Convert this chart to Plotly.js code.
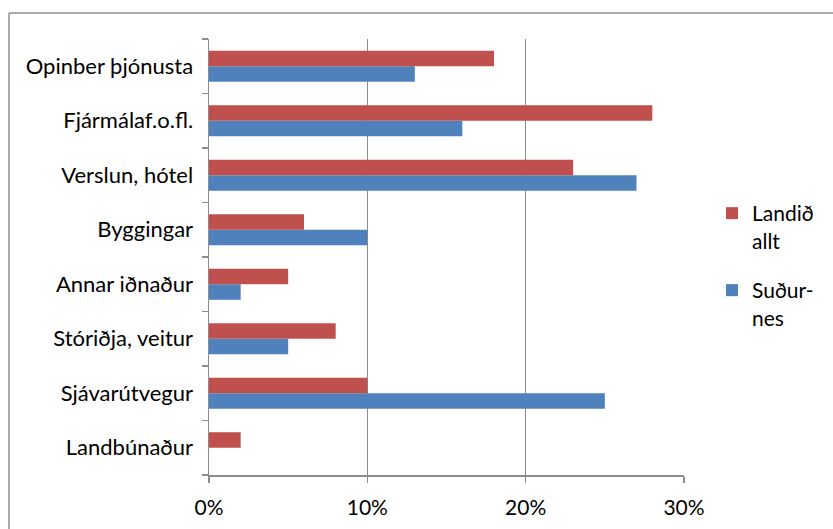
<!DOCTYPE html>
<html>
<head>
<meta charset="utf-8">
<script src="https://cdn.plot.ly/plotly-3.0.1.min.js"></script>
<style>html,body{margin:0;padding:0;background:#fff;}#chart{width:833px;height:529px;}</style>
</head>
<body>
<div id="chart"></div>
<script>
const categories = ["Landbúnaður", "Sjávarútvegur", "Stóriðja, veitur", "Annar iðnaður", "Byggingar", "Verslun, hótel", "Fjármálaf.o.fl.", "Opinber þjónusta"];
const landidAllt = [0.02, 0.10, 0.08, 0.05, 0.06, 0.23, 0.28, 0.18];
const sudurnes = [0.00, 0.25, 0.05, 0.02, 0.10, 0.27, 0.16, 0.13];
const seriesNames = ["Landið<br>allt", "Suður-<br>nes"];
const xTicks = [0, 0.1, 0.2, 0.3];
const xTickText = ["0%", "10%", "20%", "30%"];

const font = "Lato, 'Open Sans', sans-serif";
const traces = [
  {type: "bar", orientation: "h", name: seriesNames[1], legend: "legend2", y: categories, x: sudurnes,
   marker: {color: "#4F81BD"}, hoverinfo: "x+y"},
  {type: "bar", orientation: "h", name: seriesNames[0], legend: "legend", y: categories, x: landidAllt,
   marker: {color: "#C0504D"}, hoverinfo: "x+y"}
];
const L = 209, R = 684, T = 39, B = 475;
const px = v => (v - L) / (R - L);
const py = v => (B - v) / (B - T);
const legendBase = {xanchor: "left", yanchor: "top", valign: "top",
  font: {family: font, size: 21, color: "#000"}, itemwidth: 30, bgcolor: "rgba(0,0,0,0)"};
const layout = {
  width: 833, height: 529,
  margin: {l: L, r: 833 - R, t: T, b: 529 - B, pad: 0},
  paper_bgcolor: "#fff", plot_bgcolor: "#fff",
  barmode: "group", bargap: 0.43, bargroupgap: 0,
  font: {family: font, size: 22, color: "#000"},
  showlegend: true,
  legend: Object.assign({x: px(712), y: py(193)}, legendBase),
  legend2: Object.assign({x: px(712), y: py(270)}, legendBase),
  xaxis: {range: [0, 0.3], tickvals: xTicks, ticktext: xTickText, showgrid: true,
          gridcolor: "#8c8c8c", gridwidth: 1.5, zeroline: false, showline: true,
          linecolor: "#8c8c8c", linewidth: 1.5, ticks: "outside", ticklen: 6,
          tickcolor: "#8c8c8c", tickwidth: 1.5, ticklabelstandoff: 7, fixedrange: true,
          tickfont: {family: font, size: 21, color: "#000"}},
  yaxis: {type: "category", showline: true, linecolor: "#8c8c8c", linewidth: 1.5,
          ticks: "outside", tickson: "boundaries", ticklen: 6, tickcolor: "#8c8c8c",
          tickwidth: 1.5, showgrid: false, zeroline: false, ticklabelstandoff: 10,
          fixedrange: true, tickfont: {family: font, size: 22, color: "#000"}},
  shapes: [
    {type: "line", xref: "paper", yref: "paper", x0: px(9), x1: px(833), y0: py(13), y1: py(13),
     line: {color: "#8c8c8c", width: 1.5}},
    {type: "line", xref: "paper", yref: "paper", x0: px(9), x1: px(9), y0: py(13), y1: py(530),
     line: {color: "#8c8c8c", width: 1.5}}
  ]
};
Plotly.newPlot("chart", traces, layout, {displayModeBar: false, staticPlot: true});
</script>
</body>
</html>
